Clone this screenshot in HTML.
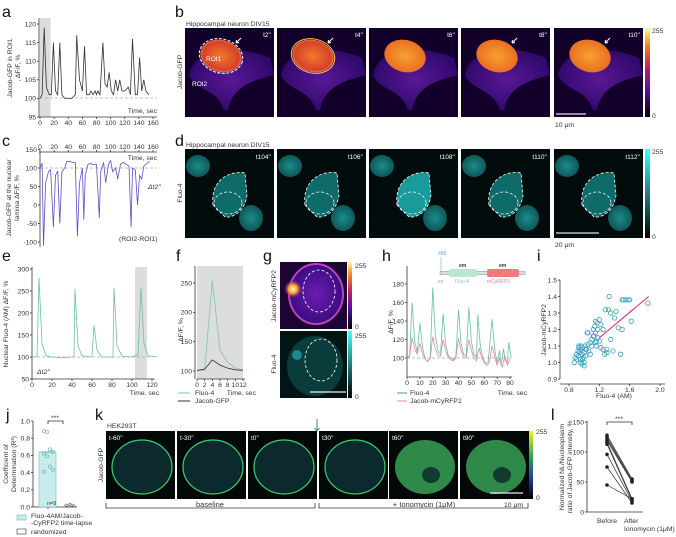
<!DOCTYPE html>
<html><head><meta charset="utf-8"><style>
body{margin:0;background:#fff;}
svg{display:block;font-family:"Liberation Sans",sans-serif;}
.t{font-size:6.8px;fill:#333;}
.L{font-size:16px;fill:#111;}
.ax{stroke:#333;stroke-width:0.8;fill:none;}
.w{font-size:6.5px;fill:#fff;}
</style></head><body>
<svg id="fig" width="676" height="537" viewBox="0 0 676 537">
<defs>
<radialGradient id="nucB" cx="50%" cy="50%" r="55%"><stop offset="0" stop-color="#f07a2a"/><stop offset="0.8" stop-color="#d8402a"/><stop offset="1" stop-color="#f0b040"/></radialGradient>
<radialGradient id="nucB2" cx="50%" cy="50%" r="55%"><stop offset="0" stop-color="#f8a030"/><stop offset="1" stop-color="#e86a20"/></radialGradient>
<radialGradient id="cellP" cx="50%" cy="50%" r="50%"><stop offset="0" stop-color="#6a1eb0"/><stop offset="1" stop-color="#3a0c80"/></radialGradient>
<radialGradient id="cyan" cx="50%" cy="50%" r="50%"><stop offset="0" stop-color="#1c8c8c"/><stop offset="1" stop-color="#0e5858"/></radialGradient>
<radialGradient id="spot" cx="50%" cy="50%" r="50%"><stop offset="0" stop-color="#fff8d0"/><stop offset="0.5" stop-color="#f8a020"/><stop offset="1" stop-color="#a01aa0" stop-opacity="0"/></radialGradient>
<linearGradient id="cbFire" x1="0" y1="1" x2="0" y2="0"><stop offset="0" stop-color="#000"/><stop offset="0.3" stop-color="#5010a0"/><stop offset="0.55" stop-color="#c02060"/><stop offset="0.8" stop-color="#f08020"/><stop offset="1" stop-color="#ffff90"/></linearGradient>
<linearGradient id="cbCyan" x1="0" y1="1" x2="0" y2="0"><stop offset="0" stop-color="#000"/><stop offset="1" stop-color="#40ffff"/></linearGradient>
<linearGradient id="cbGreen" x1="0" y1="1" x2="0" y2="0"><stop offset="0" stop-color="#000"/><stop offset="0.3" stop-color="#2040a0"/><stop offset="0.6" stop-color="#20a060"/><stop offset="1" stop-color="#f0f020"/></linearGradient>
</defs>

<text class="L" x="2" y="17">a</text>
<text class="L" x="175" y="17">b</text>
<text class="L" x="2" y="146">c</text>
<text class="L" x="175" y="146">d</text>
<text class="L" x="2" y="261">e</text>
<text class="L" x="176" y="261">f</text>
<text class="L" x="263" y="261">g</text>
<text class="L" x="382" y="261">h</text>
<text class="L" x="537" y="261">i</text>
<text class="L" x="6" y="420">j</text>
<text class="L" x="95" y="420">k</text>
<text class="L" x="551" y="420">l</text>

<g>
<rect x="40" y="18" width="10.6" height="99" fill="#ddd"/>
<line x1="40" y1="98" x2="157" y2="98" stroke="#aaa" stroke-width="0.7" stroke-dasharray="3,2"/>
<text class="t" x="12" y="68" transform="rotate(-90 12 68)" text-anchor="middle">Jacob-GFP in ROI1</text>
<text class="t" x="20" y="68" transform="rotate(-90 20 68)" text-anchor="middle">, ΔF/F, %</text>
<text class="t" x="157" y="113" text-anchor="end">Time, sec</text>
<g id="aAx"></g><path id="aLine" fill="none" stroke="#333" stroke-width="0.8"/>
</g>

<g>
<line x1="40" y1="168" x2="157" y2="168" stroke="#aaa" stroke-width="0.7" stroke-dasharray="3,2"/>
<text class="t" x="11" y="198" transform="rotate(-90 11 198)" text-anchor="middle">Jacob-GFP at the nuclear</text>
<text class="t" x="19" y="198" transform="rotate(-90 19 198)" text-anchor="middle">lamina ΔF/F, %</text>
<text class="t" x="157" y="160" text-anchor="end">Time, sec</text>
<text class="t" x="148" y="189" font-style="italic">Δt2''</text>
<text class="t" x="119" y="241">(ROI2-ROI1)</text>
<g id="cAx"></g><path id="cLine" fill="none" stroke="#5b50c8" stroke-width="0.8"/>
</g>

<text class="t" x="186" y="26">Hippocampal neuron DIV15</text>
<text class="t" x="182" y="72" transform="rotate(-90 182 72)" text-anchor="middle">Jacob-GFP</text>
<g id="bImgs"></g>
<rect x="645" y="28" width="5" height="89" fill="url(#cbFire)"/>
<text class="t" x="652" y="33">255</text>
<text class="t" x="652" y="118">0</text>
<line x1="556" y1="114" x2="586" y2="114" stroke="#ddd" stroke-width="1.3"/>
<text class="t" x="555" y="127">10 μm</text>

<text class="t" x="186" y="147">Hippocampal neuron DIV15</text>
<text class="t" x="182" y="193" transform="rotate(-90 182 193)" text-anchor="middle">Fluo-4</text>
<g id="dImgs"></g>
<rect x="645" y="149" width="5" height="89" fill="url(#cbCyan)"/>
<text class="t" x="652" y="154">255</text>
<text class="t" x="652" y="239">0</text>
<line x1="556" y1="233" x2="599" y2="233" stroke="#ddd" stroke-width="1.3"/>
<text class="t" x="555" y="247">20 μm</text>

<g>
<rect x="135" y="267" width="12" height="112" fill="#ddd"/>
<line x1="32" y1="357" x2="152" y2="357" stroke="#aaa" stroke-width="0.7" stroke-dasharray="3,2"/>
<text class="t" x="8" y="324" transform="rotate(-90 8 324)" text-anchor="middle">Nuclear  Fluo-4 (AM)  ΔF/F, %</text>
<text class="t" x="159" y="395" text-anchor="end">Time, sec</text>
<text class="t" x="37" y="374" font-style="italic">Δt2''</text>
<g id="eAx"></g><path id="eLine" fill="none" stroke="#6cbfa5" stroke-width="0.8"/>
</g>

<g>
<rect x="197" y="266" width="46" height="113" fill="#ddd"/>
<text class="t" x="183" y="330" transform="rotate(-90 183 330)" text-anchor="middle">ΔF/F, %</text>
<text class="t" x="256" y="395" text-anchor="end">Time, sec</text>
<g id="fAx"></g>
<path id="fFluo" fill="none" stroke="#7cc4ad" stroke-width="0.8"/>
<path id="fJac" fill="none" stroke="#333" stroke-width="0.8"/>
<line x1="178" y1="393" x2="190" y2="393" stroke="#7cc4ad"/>
<text class="t" x="195" y="395">Fluo-4</text>
<line x1="178" y1="401" x2="190" y2="401" stroke="#333"/>
<text class="t" x="195" y="403">Jacob-GFP</text>
</g>

<g>
<rect x="280" y="262" width="67" height="67" fill="#1a0535"/>
<ellipse cx="316" cy="294" rx="27" ry="30" fill="url(#cellP)"/>
<ellipse cx="316" cy="294" rx="27" ry="30" fill="none" stroke="#c040c0" stroke-width="2"/>
<circle cx="293" cy="289" r="9" fill="url(#spot)"/>
<ellipse cx="319" cy="291" rx="16" ry="21" fill="none" stroke="#fff" stroke-width="0.8" stroke-dasharray="3,2"/>
<rect x="280" y="331" width="67" height="67" fill="#031414"/>
<ellipse cx="315" cy="366" rx="28" ry="30" fill="#0a3c3c"/>
<circle cx="297" cy="355" r="5" fill="#1a8a8a"/>
<ellipse cx="321" cy="360" rx="16" ry="21" fill="none" stroke="#fff" stroke-width="0.8" stroke-dasharray="3,2"/>
<line x1="310" y1="392" x2="346" y2="392" stroke="#eee" stroke-width="1.3"/>
<text class="t" x="276" y="296" transform="rotate(-90 276 296)" text-anchor="middle">Jacob-mCyRFP2</text>
<text class="t" x="276" y="364" transform="rotate(-90 276 364)" text-anchor="middle">Fluo-4</text>
<rect x="348" y="262" width="4" height="67" fill="url(#cbFire)"/>
<rect x="348" y="331" width="4" height="67" fill="url(#cbCyan)"/>
<text class="t" x="355" y="268">255</text>
<text class="t" x="355" y="329">0</text>
<text class="t" x="355" y="338">255</text>
<text class="t" x="355" y="399">0</text>
</g>

<g>
<line x1="407" y1="358" x2="512" y2="358" stroke="#aaa" stroke-width="0.7" stroke-dasharray="3,2"/>
<text class="t" x="393" y="322" transform="rotate(-90 393 322)" text-anchor="middle">ΔF/F, %</text>
<text class="t" x="527" y="395" text-anchor="end">Time, sec</text>
<g id="hAx"></g>
<path id="hFluo" fill="none" stroke="#6cbfa5" stroke-width="0.8"/>
<path id="hRfp" fill="none" stroke="#e08aa5" stroke-width="0.8"/>
<line x1="397" y1="393" x2="407" y2="393" stroke="#4a9a85"/>
<text class="t" x="410" y="395">Fluo-4</text>
<line x1="397" y1="401" x2="407" y2="401" stroke="#e08aa5"/>
<text class="t" x="410" y="403">Jacob-mCyRFP2</text>
<g>
<rect x="440" y="271.5" width="85" height="3" fill="#ddd" stroke="#888" stroke-width="0.5"/>
<rect x="449" y="269" width="28" height="8" rx="2" fill="#b8e8d0"/>
<rect x="487" y="269" width="32" height="8" rx="2" fill="#f07a7a"/>
<line x1="441" y1="257" x2="441" y2="272" stroke="#6aaee0" stroke-width="0.6"/>
<text x="438" y="255" font-size="5" fill="#6aaee0">488</text>
<text x="438" y="283" font-size="5" fill="#6aaee0">ex</text>
<text x="459" y="267" font-size="5" font-weight="bold" fill="#333">em</text>
<text x="499" y="267" font-size="5" font-weight="bold" fill="#333">em</text>
<text x="455" y="283" font-size="5" fill="#8ccab0">Fluo-4</text>
<text x="487" y="283" font-size="5" fill="#f07a9a">mCyRFP2</text>
</g>
</g>

<g>
<text class="t" x="546" y="330" transform="rotate(-90 546 330)" text-anchor="middle">Jacob-mCyRFP2</text>
<text class="t" x="614" y="398" text-anchor="middle">Fluo-4 (AM)</text>
<g id="iAx"></g><g id="iPts"></g>
<line id="iFit" stroke="#e0206a" stroke-width="1"/>
</g>

<g>
<text class="t" x="8" y="464" transform="rotate(-90 8 464)" text-anchor="middle">Coefficient of</text>
<text class="t" x="16" y="464" transform="rotate(-90 16 464)" text-anchor="middle">Determination (R²)</text>
<g id="jAx"></g><g id="jMarks"></g>
<path d="M48,424 V421 H63 V424" class="ax"/>
<text class="t" x="55" y="420" text-anchor="middle">***</text>
<text x="47" y="505" font-size="5.5" fill="#333">n=9</text>
<rect x="17" y="515" width="9" height="5" fill="#c8ecec" stroke="#6cbfbf" stroke-width="0.6"/>
<text class="t" x="31" y="518">Fluo-4AM/Jacob-</text>
<text class="t" x="31" y="525">-CyRFP2 time-lapse</text>
<rect x="17" y="529" width="9" height="5" fill="#fff" stroke="#333" stroke-width="0.6"/>
<text class="t" x="31" y="534">randomized</text>
</g>

<g>
<text class="t" x="107" y="428">HEK293T</text>
<text class="t" x="103" y="465" transform="rotate(-90 103 465)" text-anchor="middle">Jacob-GFP</text>
<g id="kImgs"></g>
<rect x="529" y="431" width="4" height="68" fill="url(#cbGreen)"/>
<text class="t" x="536" y="434">255</text>
<text class="t" x="536" y="500">0</text>
<line x1="490" y1="493" x2="523" y2="493" stroke="#eee" stroke-width="1.3"/>
<path d="M317,419 V431 M314.5,428 L317,431 L319.5,428" stroke="#2a7a7a" stroke-width="0.9" fill="none"/>
<path d="M106,503 V508 H315 V503" class="ax" stroke-width="0.6"/>
<text x="210" y="507" font-size="7.5" fill="#333" text-anchor="middle">baseline</text>
<path d="M319,503 V508 H528 V503" class="ax" stroke-width="0.6"/>
<text x="424" y="507" font-size="7.5" fill="#333" text-anchor="middle">+ Ionomycin (1μM)</text>
<text class="t" x="504" y="507">10 μm</text>
</g>

<g>
<text class="t" x="564" y="467" transform="rotate(-90 564 467)" text-anchor="middle">Normalized NL/Nucleoplasm</text>
<text class="t" x="572" y="467" transform="rotate(-90 572 467)" text-anchor="middle">ratio of Jacob-GFP intensity, %</text>
<path d="M607,425 V422 H632 V425" class="ax"/>
<text class="t" x="619" y="421" text-anchor="middle">***</text>
<g id="lAx"></g><g id="lMarks"></g>
<text class="t" x="607" y="523" text-anchor="middle">Before</text>
<text class="t" x="624" y="523">After</text>
<text class="t" x="624" y="531">Ionomycin (1μM)</text>
</g>
</svg>
<script>
const NS='http://www.w3.org/2000/svg';
const aTimes=[0,3,6,9,13,16,19,22,25,28,31,35,40,45,50,52,56,60,63,66,70,72,75,78,80,82,85,89,92,95,98,101,104,107,110,113,116,120,125,128,131,135,138,141,144,147,150,154];
const aValues=[100,101,119,103,101,101,115,102,101,115,101,100,100,100,101,117,105,102,114,101,101,102,101,102,101,102,101,115,104,103,107,102,101,105,102,105,102,102,103,101,116,101,101,111,102,105,102,101];
const aTicksX=[0,20,40,60,80,100,120,140,160];
const aTicksY=[95,100,105,110,115,120];
const cTimes=[0,3,5,8,12,15,19,22,25,28,31,35,38,42,46,50,53,56,60,62,64,68,72,76,80,84,86,90,93,97,100,103,107,110,114,118,122,126,129,131,135,138,141,144,147,150,155];
const cValues=[100,113,-110,60,90,95,-60,80,92,-50,90,100,118,118,115,115,-85,60,100,-40,80,110,112,108,110,-35,90,115,60,110,120,90,100,70,110,115,110,105,-60,100,95,0,80,70,105,110,118];
const cTicksX=[0,20,40,60,80,100,120,140,160];
const cTicksY=[-100,-50,0,50,100,150];
const eTimes=[0,5,7,10,14,20,30,40,42,43,46,50,58,60,62,65,70,80,81,82,85,90,100,106,109,112,116,125];
const eValues=[100,101,280,130,103,100,98,100,102,255,125,103,100,101,172,115,100,100,102,258,125,102,100,105,258,130,103,100];
const eTicksX=[0,20,40,60,80,100,120];
const eTicksY=[50,100,150,200,250,300];
const fTimes=[0,2,4,6,8,10,12];
const fFluo=[100,102,255,135,115,105,102];
const fJacob=[101,103,119,110,105,102,101];
const fTicksX=[0,2,4,6,8,10,12];
const fTicksY=[100,150,200,250];
const hTimes=[0,2,4,6,8,10,12,14,16,18,20,22,24,26,28,30,32,34,36,38,40,42,44,46,48,50,52,54,55,57,59,61,63,66,68,70,72,73,75,76,78,79,81];
const hFluo=[100,102,160,118,106,138,112,100,96,100,176,125,108,104,148,115,103,100,98,102,152,115,104,102,155,118,104,100,147,112,100,94,95,142,110,95,108,92,110,98,95,117,100];
const hRfpTimes=[0,2,4,6,8,10,12,14,16,18,20,22,24,26,28,30,32,34,36,38,40,42,44,46,48,50,52,54,56,58,60,62,64,66,68,70,72,74,76,78,80];
const hRfp=[100,102,122,110,104,116,105,99,96,100,123,110,103,102,120,108,101,98,97,100,121,108,101,100,120,108,100,97,111,100,95,92,95,113,102,92,100,90,103,92,99];
const hTicksX=[0,10,20,30,40,50,60,70,80];
const hTicksY=[100,120,140,160,180];
const iFluo=[0.87,0.88,0.9,0.9,0.92,0.92,0.93,0.94,0.95,0.95,0.96,0.97,0.97,0.98,0.99,1.0,1.0,1.01,1.02,1.03,1.04,1.05,1.06,1.08,1.1,1.1,1.12,1.13,1.14,1.15,1.15,1.16,1.17,1.18,1.18,1.2,1.22,1.25,1.28,1.3,1.32,1.35,1.38,1.4,1.45,1.48,1.5,1.52,1.55,1.58,1.6,1.62,1.33,1.22,1.3,1.42,1.5,1.05,0.98,1.0,0.93,1.12,1.2,1.16,1.25,1.35,1.84,1.27,1.15,0.95,1.02,1.08];
const iRfp=[1.0,1.03,1.05,1.02,1.07,1.04,1.1,1.06,1.08,1.02,1.1,1.05,0.99,1.09,1.03,1.06,1.0,1.1,1.04,1.08,1.18,1.11,1.07,1.12,1.14,1.1,1.2,1.16,1.22,1.18,1.25,1.13,1.24,1.2,1.15,1.26,1.09,1.08,1.32,1.06,1.32,1.14,1.07,1.27,1.21,1.05,1.38,1.38,1.38,1.38,1.38,1.25,1.4,1.23,1.08,1.31,1.2,1.18,1.02,0.98,1.09,1.16,1.13,1.1,1.2,1.3,1.36,1.05,1.12,1.0,1.08,1.05];
const iTicksX=[0.8,1.2,1.6,2.0];
const iTickLabelsX=["0.8","1.2","1.6","2.0"];
const iTicksY=[0.9,1.0,1.1,1.2,1.3,1.4,1.5];
const iTickLabelsY=["0.9","1.0","1.1","1.2","1.3","1.4","1.5"];
const iFitX=[1.2,1.85];
const iFitY=[1.15,1.4];
const jValues=[0.88,0.87,0.67,0.64,0.62,0.59,0.47,0.43,0.41];
const jMean=0.64;
const jRandom=[0.01,0.0,0.02,0.01,0.0];
const jTicksY=[0,0.2,0.4,0.6,0.8,1.0];
const jTickLabelsY=["0.0","0.2","0.4","0.6","0.8","1.0"];
const lBefore=[128,125,122,119,116,113,96,75,45];
const lAfter=[55,53,51,50,22,20,18,15,22];
const lTicksY=[0,50,100,150];
const bTimes=["t2''","t4''","t6''","t8''","t10''"];
const dTimes=["t104''","t106''","t108''","t110''","t112''"];
const kTimes=["t-60''","t-30''","t0''","t30''","t60''","t90''"];

function mk(tag,attrs,parent,name){const el=document.createElementNS(NS,tag);for(const k in attrs)el.setAttribute(k,attrs[k]);


parent.appendChild(el);return el;}
function txt(s,x,y,parent,name,anchor){const t=mk('text',{x:x,y:y,'class':'t','text-anchor':anchor||'end'},parent,name);t.textContent=s;return t;}
function path(xs,ys,sx,sy){return xs.map((t,i)=>(i?'L':'M')+sx(t).toFixed(1)+','+sy(ys[i]).toFixed(1)).join('');}
function axes(g,sx,sy,tx,ty,x0,x1,y0,y1,xAxisY,yAxisX,pre,topX,lx,lyy){
  mk('line',{x1:yAxisX,y1:y0,x2:yAxisX,y2:y1,'class':'ax'},g,pre+'-y-axis');
  mk('line',{x1:x0,y1:xAxisY,x2:x1,y2:xAxisY,'class':'ax'},g,pre+'-x-axis');
  tx.forEach((v,k)=>{const x=sx(v);mk('line',{x1:x,y1:xAxisY,x2:x,y2:xAxisY+(topX?-2:2),'class':'ax'},g,pre+'-x-tick');
    txt(lx?lx[k]:String(v),x,topX?xAxisY-3:xAxisY+8,g,pre+'-x-tick-label','middle');});
  ty.forEach((v,k)=>{const y=sy(v);mk('line',{x1:yAxisX,y1:y,x2:yAxisX-2,y2:y,'class':'ax'},g,pre+'-y-tick');
    txt(lyy?lyy[k]:String(v),yAxisX-3,y+2.3,g,pre+'-y-tick-label','end');});
}
const $=id=>document.getElementById(id);
const ax_=t=>40+t*113/160, ay=v=>117-(v-95)*93/25;
axes($('aAx'),ax_,ay,aTicksX,aTicksY,39,157,18,117,117,39,'a');
$('aLine').setAttribute('d',path(aTimes,aValues,ax_,ay));
const cx=t=>40+t*113/160, cy=v=>168-(v-100)*0.37;
axes($('cAx'),cx,cy,cTicksX,cTicksY,39,157,152,247,152,40,'c',true);
$('cLine').setAttribute('d',path(cTimes,cValues,cx,cy));
const ex=t=>32+t, ey=v=>269+(300-v)*0.44;
axes($('eAx'),ex,ey,eTicksX,eTicksY,32,155,267,379,379,32,'e');
$('eLine').setAttribute('d',path(eTimes,eValues,ex,ey));
const fx=t=>197+t*46/12, fy=v=>371-(v-100)*88/150;
axes($('fAx'),fx,fy,fTicksX,fTicksY,197,245,266,379,379,195,'f');
$('fFluo').setAttribute('d',path(fTimes,fFluo,fx,fy));
$('fJac').setAttribute('d',path(fTimes,fJacob,fx,fy));
const hx=t=>407+t*103/80, hy=v=>358-(v-100)*74/80;
axes($('hAx'),hx,hy,hTicksX,hTicksY,407,512,266,377,377,407,'h');
$('hFluo').setAttribute('d',path(hTimes,hFluo,hx,hy));
$('hRfp').setAttribute('d',path(hRfpTimes,hRfp,hx,hy));
const ix=v=>569+(v-0.8)*91/1.2, iy=v=>379-(v-0.9)*99/0.6;
axes($('iAx'),ix,iy,iTicksX,iTicksY,560,665,280,379,384,560,'i',false,iTickLabelsX,iTickLabelsY);
iFluo.forEach((v,k)=>{mk('circle',{cx:ix(v),cy:iy(iRfp[k]),r:2.2,fill:'none',stroke:'#3aa0c0','stroke-width':0.8},$('iPts'),'i-point');});
const fit=$('iFit');fit.setAttribute('x1',ix(iFitX[0]));fit.setAttribute('x2',ix(iFitX[1]));fit.setAttribute('y1',iy(iFitY[0]));fit.setAttribute('y2',iy(iFitY[1]));
const jy=v=>507-v*86;
axes($('jAx'),v=>v,jy,[],jTicksY,33,77,421,507,507,33,'j',false,null,jTickLabelsY);
mk('line',{x1:48,y1:507,x2:48,y2:509,'class':'ax'},$('jAx'),'j-x-tick');
mk('rect',{x:39,y:jy(jMean),width:17,height:507-jy(jMean),fill:'#c8ecec',stroke:'#6cbfbf','stroke-width':0.6},$('jMarks'),'j-bar-timelapse');
jValues.forEach((v,k)=>{mk('circle',{cx:44+(k%4)*3,cy:jy(v),r:1.6,fill:'none',stroke:'#5ab0a0','stroke-width':0.6},$('jMarks'),'j-point');});
mk('line',{x1:43,y1:jy(jMean),x2:53,y2:jy(jMean),stroke:'#5ab0a0'},$('jMarks'),'j-mean-line');
jRandom.forEach((v,k)=>{mk('circle',{cx:66+k*2,cy:jy(v)-1,r:1.2,fill:'none',stroke:'#333','stroke-width':0.5},$('jMarks'),'j-random-point');});
const ly=v=>512-v*90/150;
axes($('lAx'),v=>v,ly,[],lTicksY,587,643,421,512,512,587,'l');
lBefore.forEach((v,k)=>{mk('line',{x1:607,y1:ly(v),x2:632,y2:ly(lAfter[k]),stroke:'#333','stroke-width':0.7},$('lMarks'),'l-pair-line');
 mk('circle',{cx:607,cy:ly(v),r:1.8,fill:'#222'},$('lMarks'),'l-before-point');
 mk('circle',{cx:632,cy:ly(lAfter[k]),r:1.8,fill:'#222'},$('lMarks'),'l-after-point');});
const bX=[185,277,369,461,554];
bTimes.forEach((s,k)=>{const g=$('bImgs'),x=bX[k];
 mk('rect',{x:x,y:28,width:89,height:89,fill:'#12002a'},g,'b-image');
 mk('path',{d:`M${x+4},75 C${x+10},45 ${x+55},45 ${x+85},58 L${x+89},75 C${x+70},80 ${x+48},85 ${x+43},110 L${x+39},110 C${x+32},88 ${x+12},92 ${x+4},75Z`,fill:'url(#cellP)',opacity:0.8},g,'b-cell-body');
 mk('ellipse',{cx:x+36,cy:56,rx:21,ry:16,fill:k>1?'url(#nucB2)':'url(#nucB)',transform:`rotate(15 ${x+36} 56)`},g,'b-nucleus');
 if(k<2)mk('ellipse',{cx:x+36,cy:56,rx:22,ry:17,fill:'none',stroke:k==0?'#fff':'#f8c050','stroke-width':1,'stroke-dasharray':k==0?'3,1.5':'',transform:`rotate(15 ${x+36} 56)`},g,'b-roi-outline');
 txt(s,x+86,37,g,'b-time-label','end').setAttribute('class','w');
 if(k!=2)mk('path',{d:`M${x+51},43 L${x+56},38 M${x+51},43 l0.5,-3 M${x+51},43 l3,-0.5`,stroke:'#fff','stroke-width':1,fill:'none'},g,'b-arrow');});
txt('ROI1',206,61,$('bImgs'),'b-roi1-label','start').setAttribute('class','w');
txt('ROI2',192,86,$('bImgs'),'b-roi2-label','start').setAttribute('class','w');
dTimes.forEach((s,k)=>{const g=$('dImgs'),x=bX[k];
 mk('rect',{x:x,y:149,width:89,height:89,fill:'#020c0c'},g,'d-image');
 mk('ellipse',{cx:x+13,cy:166,rx:12,ry:11,fill:'url(#cyan)'},g,'d-neighbor-cell');
 mk('ellipse',{cx:x+66,cy:218,rx:12,ry:13,fill:'url(#cyan)'},g,'d-neighbor-cell');
 mk('path',{d:`M${x+28},205 C${x+25},180 ${x+45},170 ${x+60},173 L${x+62},195 C${x+60},210 ${x+50},218 ${x+40},217Z`,fill:k==2?'#1a9a9a':'#0f6a6a',stroke:'#fff','stroke-width':0.8,'stroke-dasharray':'3,2'},g,'d-nucleus');
 mk('ellipse',{cx:x+43,cy:203,rx:14,ry:11,fill:'none',stroke:'#fff','stroke-width':0.7,'stroke-dasharray':'3,2'},g,'d-inner-roi');
 txt(s,x+86,159,g,'d-time-label','end').setAttribute('class','w');});
const kX=[106,177,248,319,389,460];
kTimes.forEach((s,k)=>{const g=$('kImgs'),x=kX[k];
 mk('rect',{x:x,y:431,width:69,height:68,fill:'#020808'},g,'k-image');
 const filled=k>3;
 mk('ellipse',{cx:x+36,cy:467,rx:30,ry:27,fill:filled?'#2f8a4a':'#0c2a2e',stroke:filled?'#2f8a4a':'#3ad070','stroke-width':filled?0:1.2},g,'k-nucleus');
 if(filled)mk('ellipse',{cx:x+42,cy:475,rx:9,ry:8,fill:'#123a30'},g,'k-nucleolus');
 txt(s,x+3,440,g,'k-time-label','start').setAttribute('class','w');});
</script>
</body></html>
